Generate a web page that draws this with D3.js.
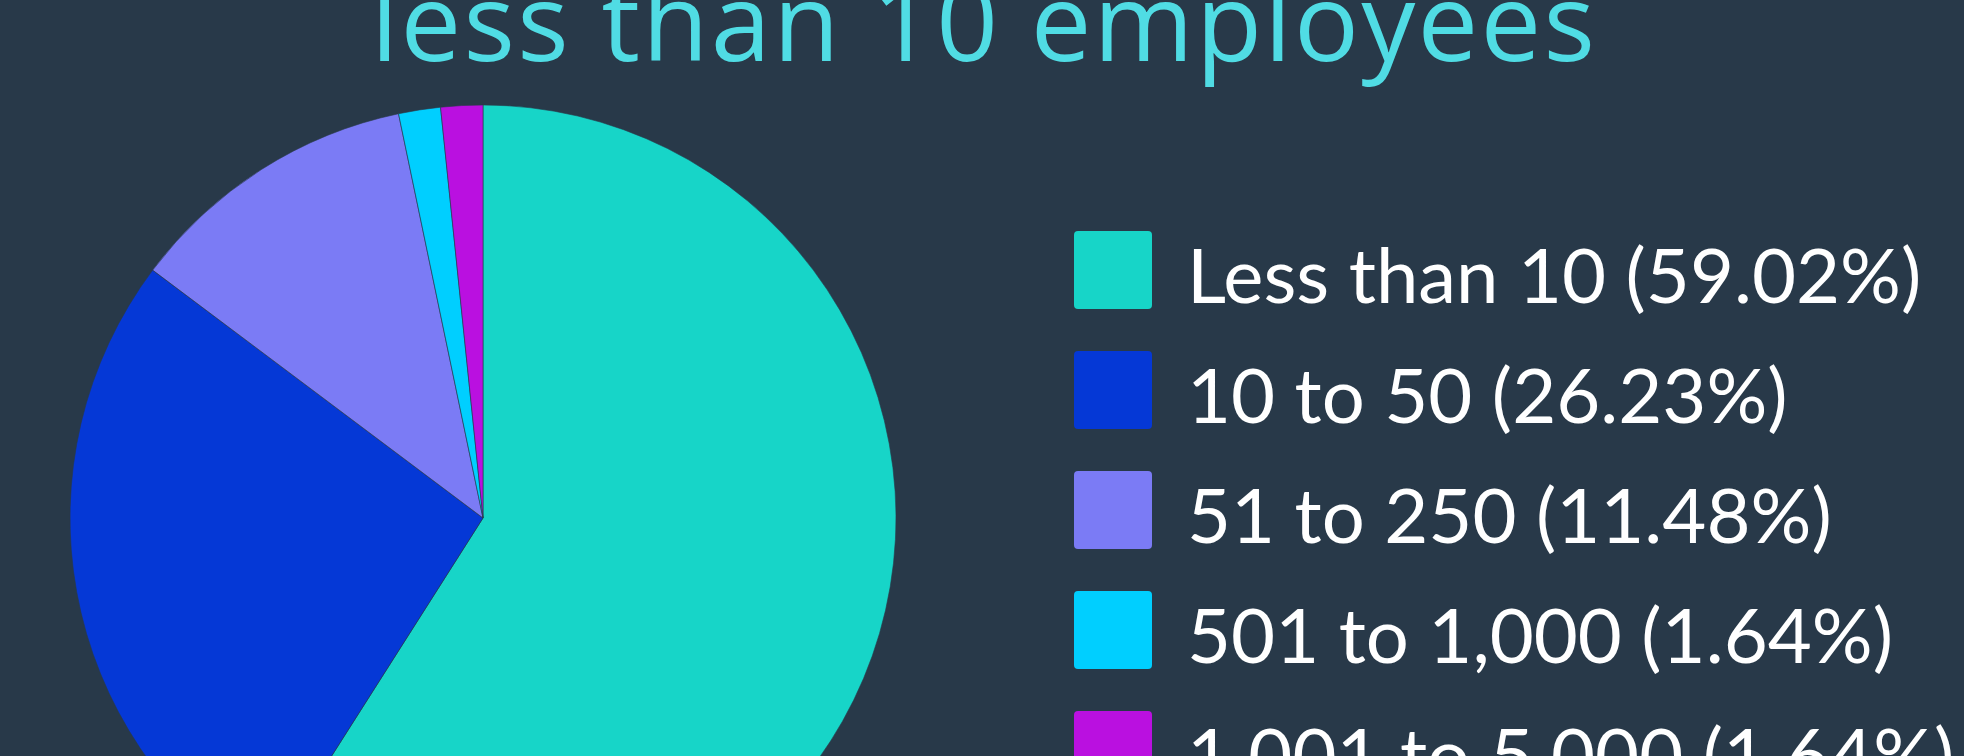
<!DOCTYPE html>
<html>
<head>
<meta charset="utf-8">
<script src="https://cdn.jsdelivr.net/npm/d3@7"></script>
<style>
  html, body { margin: 0; padding: 0; background: #283949; overflow: hidden; }
</style>
</head>
<body>
<div id="chart"></div>
<script>
// Data
const title = "less than 10 employees";
const categories = ["Less than 10", "10 to 50", "51 to 250", "501 to 1,000", "1,001 to 5,000"];
const counts = [36, 16, 7, 1, 1];
const colors = ["#17D5C8", "#0538D6", "#7B7BF5", "#00CFFF", "#BA10E0"];

const width = 1964;
const height = 756;
const radius = 413;
const center = { x: 483, y: 518 };

const svg = d3.select("#chart")
  .append("svg")
  .attr("width", width)
  .attr("height", height);

svg.append("rect")
  .attr("width", width)
  .attr("height", height)
  .attr("fill", "#283949");

// Title (cut off at the top like the reference)
svg.append("text")
  .attr("x", 983)
  .attr("y", 61)
  .attr("text-anchor", "middle")
  .attr("font-family", "'Open Sans', sans-serif")
  .attr("font-size", 108)
  .attr("textLength", 1224)
  .attr("lengthAdjust", "spacing")
  .attr("fill", "#50DCE4")
  .text(title);

const total = d3.sum(counts);
const data = categories.map((c, i) => ({ label: c, value: counts[i], color: colors[i] }));

// Pie
const pie = d3.pie()
  .sort(null)
  .value(d => d.value);

const arc = d3.arc()
  .innerRadius(0)
  .outerRadius(radius);

svg.append("g")
  .attr("transform", `translate(${center.x},${center.y})`)
  .selectAll("path")
  .data(pie(data))
  .enter()
  .append("path")
  .attr("d", arc)
  .attr("fill", d => d.data.color)
  .attr("stroke", "#283949")
  .attr("stroke-width", 0.6);

// Legend
const legend = svg.append("g")
  .attr("transform", "translate(1074,231)");

const rows = legend.selectAll("g")
  .data(data)
  .enter()
  .append("g")
  .attr("transform", (d, i) => `translate(0,${i * 120})`);

rows.append("rect")
  .attr("width", 78)
  .attr("height", 78)
  .attr("rx", 4)
  .attr("fill", d => d.color);

rows.append("text")
  .attr("x", 113)
  .attr("y", 72)
  .attr("font-family", "Lato, sans-serif")
  .attr("font-size", 76)
  .attr("fill", "#ffffff")
  .text(d => `${d.label} (${(d.value / total * 100).toFixed(2)}%)`);
</script>
</body>
</html>
